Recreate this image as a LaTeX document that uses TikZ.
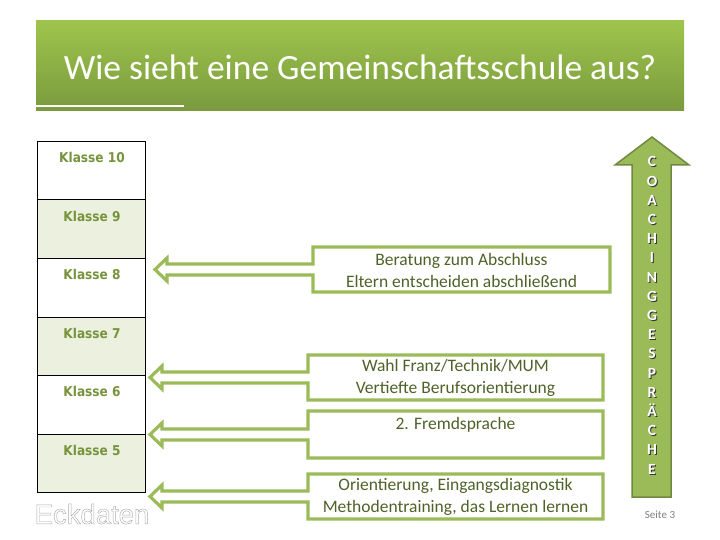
\documentclass[tikz,border=0pt]{standalone}
\usepackage{fontspec}
\setmainfont{Carlito}
\newfontfamily\arialf{Liberation Sans}
\newfontfamily\dejaf[FakeStretch=0.9]{DejaVu Sans}
\definecolor{hgreen}{HTML}{9BBB59}
\definecolor{dgreen}{HTML}{71893F}
\definecolor{tgreen}{HTML}{4F6228}
\definecolor{kgreen}{HTML}{77933C}
\definecolor{lgreen}{HTML}{EBF1DE}
\definecolor{titletop}{RGB}{158,196,76}
\definecolor{titlebot}{RGB}{122,154,62}
\newcommand\mycallout[8]{% left top right bottom shafttop shaftbot tipx
  \draw[callout] (#1,#2) -- (#3,#2) -- (#3,#4) -- (#1,#4) -- (#1,#6) -- ({#7+12},#6) -- ({#7+12},{#6+6})
    -- (#7,{(#5+#6)/2}) -- ({#7+12},{#5-6}) -- ({#7+12},#5) -- (#1,#5) -- cycle;
}
\tikzset{
  callout/.style={draw=hgreen, fill=white, line width=3.2, line join=miter},
  rowbox/.style={draw=black, line width=1, minimum width=108, minimum height=58.5, inner sep=0, anchor=north west},
  klabel/.style={font=\dejaf\bfseries\fontsize{13.5}{15}\selectfont, text=kgreen, anchor=center, inner sep=0},
  btext/.style={font=\fontsize{17.5}{22}\selectfont, text=tgreen, align=center, inner sep=0},
  coachfont/.style={font=\bfseries\fontsize{15.5}{19.2}\selectfont, align=center, inner sep=0},
}
\begin{document}
\begin{tikzpicture}[x=1pt,y=-1pt]
\useasboundingbox (0,0) rectangle (720,540);
% title bar
\shade[top color=titletop, bottom color=titlebot] (36,21) rectangle (684,111);
\draw[white, line width=1.5] (36,106) -- (184,106);
\node[font=\fontsize{35.5}{40}\selectfont, text=white] (title) at (360,67) {Wie sieht eine Gemeinschaftsschule aus?};
% column
\node[rowbox, fill=white]  (r10) at (37,141) {};
\node[rowbox, fill=lgreen] (r9)  at (37,199.5) {};
\node[rowbox, fill=white]  (r8)  at (37,258) {};
\node[rowbox, fill=lgreen] (r7)  at (37,316.5) {};
\node[rowbox, fill=white]  (r6)  at (37,375) {};
\node[rowbox, fill=lgreen] (r5)  at (37,433.5) {};
\node[klabel] (k10) at (92,157.5) {Klasse 10};
\node[klabel] (k9)  at (92,216) {Klasse 9};
\node[klabel] (k8)  at (92,274.5) {Klasse 8};
\node[klabel] (k7)  at (92,333) {Klasse 7};
\node[klabel] (k6)  at (92,391.5) {Klasse 6};
\node[klabel] (k5)  at (92,450) {Klasse 5};
\node[font=\arialf\fontsize{27.5}{30}\selectfont, text=gray!65, inner sep=0] (eck) at (92,514)
  {\special{pdf:literal direct 1 Tr 0.45 w}Eckdaten\special{pdf:literal direct 0 Tr}};
% callouts
\mycallout{313}{247}{610}{292}{264}{275}{155}{}
\mycallout{308}{355}{603}{400}{372}{383}{150}{}
\mycallout{308}{411}{603}{458}{429}{440}{150}{}
\mycallout{308}{474}{603}{519}{491}{502}{150}{}
\node[btext] (b1) at (461.5,270) {Beratung zum Abschluss\\Eltern entscheiden abschließend};
\node[btext] (b2) at (455.5,378) {Wahl Franz/Technik/MUM\\Vertiefte Berufsorientierung};
\node[btext] (b3) at (455.5,425) {2. Fremdsprache};
\node[btext] (b4) at (455.5,497) {Orientierung, Eingangsdiagnostik\\Methodentraining, das Lernen lernen};
% big arrow
\draw[fill=hgreen, draw=dgreen, line width=1.5, line join=miter] (632,497) -- (632,165) -- (615,165) -- (652,137) -- (689,165) -- (671,165) -- (671,497) -- cycle;
\node[coachfont, text=black!80] (coachs) at (653,316.5)
  {C\\O\\A\\C\\H\\I\\N\\G\\G\\E\\S\\P\\R\\Ä\\C\\H\\E};
\node[coachfont, text=white] (coach) at (652,315.5)
  {C\\O\\A\\C\\H\\I\\N\\G\\G\\E\\S\\P\\R\\Ä\\C\\H\\E};
\node[font=\fontsize{11}{13}\selectfont, text=gray] (seite) at (660,515) {Seite 3};
\end{tikzpicture}
\end{document}
